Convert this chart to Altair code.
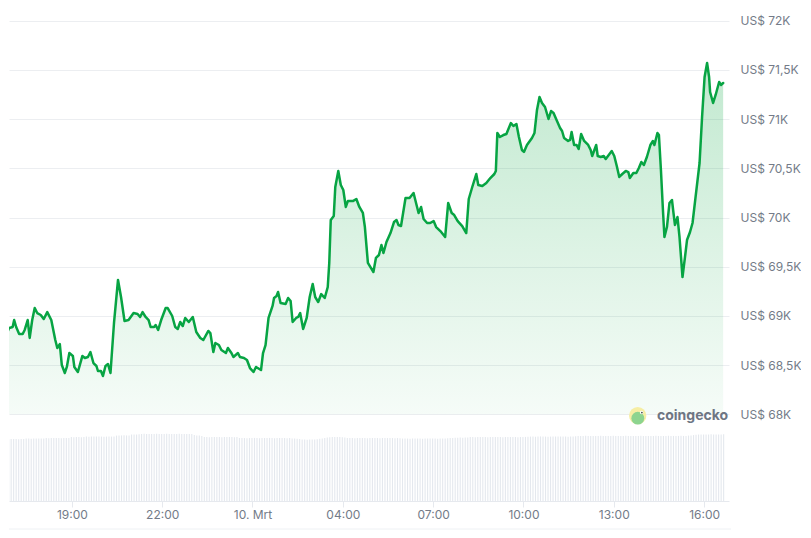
import altair as alt
import pandas as pd

# ---------------- data ----------------
start_utc = "2024-03-09T15:49:00Z"      # = 16:49 local time (UTC+1)
local_offset_ms = 3600000
month_label = "Mrt"

# minutes after start, BTC price in US$
price_minutes = [
    0, 6, 13, 16, 20, 26, 33, 37, 43, 47, 52, 57, 62, 69, 75, 82, 90, 98, 102, 107,
    111, 117, 121, 126, 133, 136, 143, 152, 157, 163, 168, 174, 180, 183, 189, 193, 198, 203, 208, 215,
    223, 229, 236, 244, 254, 262, 267, 272, 278, 284, 288, 295, 298, 303, 309, 318, 322, 331, 337, 342,
    347, 352, 357, 364, 372, 379, 387, 393, 403, 407, 413, 417, 424, 429, 438, 442, 449, 453, 462, 466,
    474, 480, 486, 493, 498, 508, 512, 517, 523, 531, 534, 539, 542, 547, 557, 562, 567, 571, 578, 582,
    586, 592, 599, 605, 611, 616, 622, 628, 635, 641, 644, 647, 653, 656, 662, 667, 672, 677, 681, 691,
    698, 704, 711, 715, 721, 727, 732, 737, 743, 748, 752, 758, 766, 773, 778, 782, 787, 796, 804, 812,
    818, 822, 827, 832, 839, 845, 852, 857, 867, 875, 881, 888, 893, 900, 909, 917, 922, 929, 937, 941,
    949, 957, 965, 973, 976, 979, 984, 991, 997, 1006, 1011, 1017, 1022, 1028, 1032, 1038, 1048, 1053, 1058, 1063,
    1068, 1074, 1081, 1086, 1091, 1097, 1104, 1108, 1112, 1120, 1124, 1127, 1132, 1137, 1141, 1146, 1152, 1160, 1165, 1168,
    1176, 1179, 1185, 1191, 1195, 1201, 1207, 1212, 1217, 1222, 1228, 1235, 1240, 1243, 1250, 1256, 1261, 1266, 1271, 1277,
    1284, 1289, 1292, 1298, 1301, 1305, 1309, 1312, 1317, 1322, 1327, 1330, 1333, 1338, 1342, 1345, 1348, 1353, 1357, 1363,
    1368, 1374, 1382, 1387, 1392, 1397, 1401, 1403, 1409, 1414, 1421, 1425, 1429,
]
price_values = [
    68806, 68877, 68887, 68958, 68887, 68816, 68816, 68857, 68958, 68776, 68958, 69080, 69029, 69009, 68968, 69039, 68958, 68755, 68674, 68714,
    68501, 68420, 68481, 68623, 68593, 68481, 68430, 68593, 68572, 68582, 68633, 68521, 68491, 68440, 68440, 68389, 68491, 68511, 68420, 68928,
    69365, 69192, 68948, 68958, 69029, 69019, 68989, 69039, 68989, 68958, 68887, 68887, 68907, 68857, 68958, 69080, 69080, 68999, 68887, 68867,
    68938, 68897, 68979, 68938, 68989, 68836, 68776, 68755, 68847, 68826, 68633, 68725, 68704, 68653, 68623, 68674, 68623, 68582, 68623, 68582,
    68572, 68552, 68470, 68430, 68481, 68450, 68623, 68704, 68979, 69101, 69182, 69202, 69243, 69131, 69121, 69182, 69151, 68938, 68979, 68989,
    69029, 68867, 68979, 69192, 69324, 69192, 69141, 69222, 69182, 69294, 69538, 69975, 70015, 70310, 70473, 70330, 70280, 70107, 70167, 70167,
    70188, 70107, 70046, 69903, 69538, 69487, 69446, 69589, 69619, 69721, 69639, 69751, 69842, 69954, 69975, 69924, 69913, 70198, 70198, 70249,
    70127, 70046, 70107, 69985, 69944, 69944, 69964, 69903, 69853, 69802, 70147, 70046, 70025, 69964, 69913, 69842, 70188, 70310, 70442, 70330,
    70320, 70351, 70401, 70442, 70473, 70859, 70818, 70838, 70849, 70960, 70930, 70950, 70818, 70686, 70666, 70737, 70808, 70859, 71093, 71225,
    71164, 71123, 71001, 71082, 71062, 70991, 70910, 70879, 70808, 70778, 70788, 70869, 70737, 70737, 70696, 70849, 70778, 70737, 70686, 70625,
    70737, 70625, 70615, 70625, 70595, 70635, 70676, 70625, 70524, 70412, 70442, 70473, 70462, 70401, 70452, 70452, 70503, 70564, 70534, 70615,
    70737, 70778, 70737, 70859, 70838, 70483, 70076, 69802, 69903, 70147, 70178, 70046, 69924, 70005, 69802, 69599, 69395, 69599, 69771, 69853,
    69944, 70208, 70554, 71021, 71428, 71570, 71428, 71275, 71164, 71245, 71377, 71347, 71367,
]

# 24h volume (mld. US$), one bar every 5 minutes from start
volume_step_min = 5
volume_values = [
    34.7, 37.6,
    37.7, 37.8, 37.7, 37.6, 37.7, 37.8,
    38.0, 38.0, 37.9, 38.0, 38.1, 38.0, 38.0, 38.1,
    38.3, 38.2, 38.3, 38.4, 38.3, 38.3, 38.2, 38.3, 38.4, 38.3,
    38.9, 38.8, 38.9, 38.9, 38.8, 38.9,
    39.2, 39.1, 39.2, 39.2, 39.3, 39.2, 39.2, 39.1, 39.2, 39.3, 39.2, 39.2,
    39.8, 39.9, 39.9, 40.0, 39.9, 39.9,
    40.4, 40.5, 40.5, 40.6,
    40.8, 40.9, 40.8, 40.8, 40.7, 40.8, 40.9, 40.8, 40.8, 40.8,
    40.9, 40.8, 40.7, 40.8, 40.8, 40.9, 40.8, 40.8, 40.8, 40.7, 40.8,
    40.2, 39.9, 39.8, 39.6,
    38.9, 38.9, 38.8, 38.9, 39.0, 38.9, 38.9, 38.8, 38.9, 38.9, 39.0, 38.9, 38.8, 38.9,
    38.3, 38.4, 38.3, 38.2, 38.3, 38.3, 38.4, 38.3, 38.2, 38.3,
    38.3, 38.3, 38.4, 38.3, 38.2, 38.3, 38.3, 38.4, 38.3, 38.2,
    38.3, 38.1, 38.0, 37.9, 37.8,
    37.5, 37.4, 37.3, 37.4, 37.4, 37.5, 37.6,
    37.9, 38.1, 38.4, 38.6, 38.8,
    38.9, 39.0, 38.9, 38.9, 38.8, 38.7,
    38.4, 38.3, 38.3, 38.2, 38.3, 38.4, 38.3, 38.3, 38.2, 38.3, 38.3,
    38.4, 38.3, 38.2, 38.3, 38.3, 38.3, 38.4, 38.3, 38.2, 38.3, 38.2,
    38.0, 38.1, 38.0, 37.9, 38.0, 38.0, 38.1, 38.0, 37.9, 38.0, 38.0,
    38.1, 38.0, 38.0, 37.9, 38.0, 38.1, 38.0, 38.2, 38.3, 38.4,
    38.5, 38.5, 38.6, 38.5, 38.6, 38.7,
    38.9, 38.9, 38.8, 38.9, 39.0, 38.9, 38.9, 38.8, 38.9, 38.9, 39.0, 38.9,
    38.9, 38.8, 38.9, 39.0, 38.9, 38.9, 38.9, 38.8, 38.9, 39.0, 39.0, 39.1,
    39.2, 39.2, 39.1, 39.2, 39.3, 39.2, 39.2, 39.1, 39.2, 39.3,
    39.2, 39.2, 39.2, 39.3, 39.2, 39.1, 39.2, 39.3, 39.4,
    39.6, 39.5, 39.6, 39.7, 39.6, 39.6, 39.5, 39.6, 39.6, 39.7,
    39.6, 39.5, 39.6, 39.6, 39.7, 39.6, 39.6, 39.5, 39.6, 39.7,
    39.6, 39.6, 39.5, 39.6, 39.6, 39.7, 39.6, 39.6, 39.5, 39.6,
    39.6, 39.7, 39.6, 39.5, 39.6, 39.6, 39.7, 39.6, 39.6, 39.5,
    39.6, 39.7, 39.6, 39.6, 39.8, 39.9, 40.1,
    40.3, 40.4, 40.5, 40.5, 40.4, 40.5, 40.6, 40.5, 40.5, 40.4, 40.5, 40.6,
]

# x ticks every 3 hours (UTC); shown in local time, UTC midnight shown as the date
x_tick_times = [
    "2024-03-09T18:00:00Z", "2024-03-09T21:00:00Z", "2024-03-10T00:00:00Z",
    "2024-03-10T03:00:00Z", "2024-03-10T06:00:00Z", "2024-03-10T09:00:00Z",
    "2024-03-10T12:00:00Z", "2024-03-10T15:00:00Z",
]
y_ticks = [68000, 68500, 69000, 69500, 70000, 70500, 71000, 71500, 72000]
y_labels = ["US$ 68K", "US$ 68,5K", "US$ 69K", "US$ 69,5K", "US$ 70K",
            "US$ 70,5K", "US$ 71K", "US$ 71,5K", "US$ 72K"]
watermark = ["coingecko"]

# visible window (minutes after start)
view_start_min = 15.7
view_end_min = 1430.7

# ---------------- tables ----------------
t0 = pd.Timestamp(start_utc)
fmt = "%Y-%m-%dT%H:%M:%SZ"
price_df = pd.DataFrame({
    "time": [(t0 + pd.Timedelta(minutes=m)).strftime(fmt) for m in price_minutes],
    "price": price_values,
})
vol_df = pd.DataFrame({
    "time": [(t0 + pd.Timedelta(minutes=volume_step_min * i)).strftime(fmt)
             for i in range(len(volume_values))],
    "volume": volume_values,
})
wm_df = pd.DataFrame({"label": watermark})


def ms(ts):
    return int(pd.Timestamp(ts).timestamp() * 1000)


d0 = int((t0 + pd.Timedelta(minutes=view_start_min)).timestamp() * 1000)
d1 = int((t0 + pd.Timedelta(minutes=view_end_min)).timestamp() * 1000)
x_tick_ms = [ms(t) for t in x_tick_times]

label_col = "#737b88"
grid_col = "#eceef1"
green = "#07a443"

x_label_expr = (
    f"utchours(datum.value) == 0 ? utcdate(datum.value) + '. {month_label}' "
    f": utcFormat(time(datum.value) + {local_offset_ms}, '%H:%M')"
)
y_label_expr = "".join(
    f"datum.value == {v} ? '{l}' : " for v, l in zip(y_ticks, y_labels)
) + "''"

x_enc = alt.X(
    "time:T",
    title=None,
    scale=alt.Scale(type="utc", domain=[d0, d1]),
    axis=alt.Axis(
        values=x_tick_ms,
        labelExpr=x_label_expr,
        grid=False,
        domainColor="#e6e9ee",
        tickColor="#e6e9ee",
        tickSize=6,
        labelPadding=2,
        labelFontSize=12,
        labelColor=label_col,
        labelFont="Inter",
    ),
)

y_price = alt.Y(
    "price:Q",
    title=None,
    scale=alt.Scale(domain=[67119, 72129], nice=False, zero=False),
    axis=alt.Axis(
        orient="right",
        values=y_ticks,
        labelExpr=y_label_expr,
        grid=True,
        gridColor=grid_col,
        domain=False,
        ticks=False,
        labelPadding=11,
        labelFontSize=12,
        labelColor=label_col,
        labelFont="Inter",
    ),
)

area = alt.Chart(price_df).mark_area(
    clip=True,
    color=alt.Gradient(
        gradient="linear",
        stops=[
            alt.GradientStop(color="rgba(16,170,70,0.26)", offset=0),
            alt.GradientStop(color="rgba(16,170,70,0.04)", offset=1),
        ],
        x1=1, x2=1, y1=0, y2=1,
    ),
).encode(x=x_enc, y=y_price, y2=alt.datum(68000))

line = alt.Chart(price_df).mark_line(
    clip=True, color=green, strokeWidth=2.5, strokeJoin="round", strokeCap="round"
).encode(x=x_enc, y=y_price)

price_layer = alt.layer(area, line)

bars = alt.Chart(vol_df).mark_bar(clip=True, size=1.1, color="#e4e8ee").encode(
    x=x_enc,
    y=alt.Y("volume:Q", title=None, scale=alt.Scale(domain=[0, 300]), axis=None),
)

# coingecko watermark
wm_circle = alt.Chart(wm_df).mark_circle(size=300, color="#f6eea4", opacity=1).encode(
    x=alt.value(628.7), y=alt.value(407.7)
)
wm_gecko = alt.Chart(wm_df).mark_circle(size=165, color="#8dd48f", opacity=1).encode(
    x=alt.value(628.8), y=alt.value(410.2)
)
wm_eye = alt.Chart(wm_df).mark_circle(size=12, color="#ffffff", opacity=1).encode(
    x=alt.value(632.6), y=alt.value(404.6)
)
wm_pupil = alt.Chart(wm_df).mark_circle(size=3, color="#3f4a3f", opacity=1).encode(
    x=alt.value(632.9), y=alt.value(404.6)
)
wm_text = alt.Chart(wm_df).mark_text(
    align="left", baseline="middle", font="Inter", fontSize=14, fontWeight="bold",
    color="#6e7683",
).encode(x=alt.value(648), y=alt.value(407.5), text="label:N")

nav_rule = alt.Chart(wm_df).mark_rule(color="#eef1f4", strokeWidth=1).encode(
    x=alt.value(0), x2=alt.value(722), y=alt.value(521)
)

chart = alt.layer(
    bars, price_layer, wm_circle, wm_gecko, wm_eye, wm_pupil, wm_text, nav_rule
).resolve_scale(y="independent").properties(
    width=720, height=493, padding=0
).configure(font="Inter", view=alt.ViewConfig(strokeWidth=0))

chart.save("out.html", embed_options={"renderer": "svg", "actions": False})
